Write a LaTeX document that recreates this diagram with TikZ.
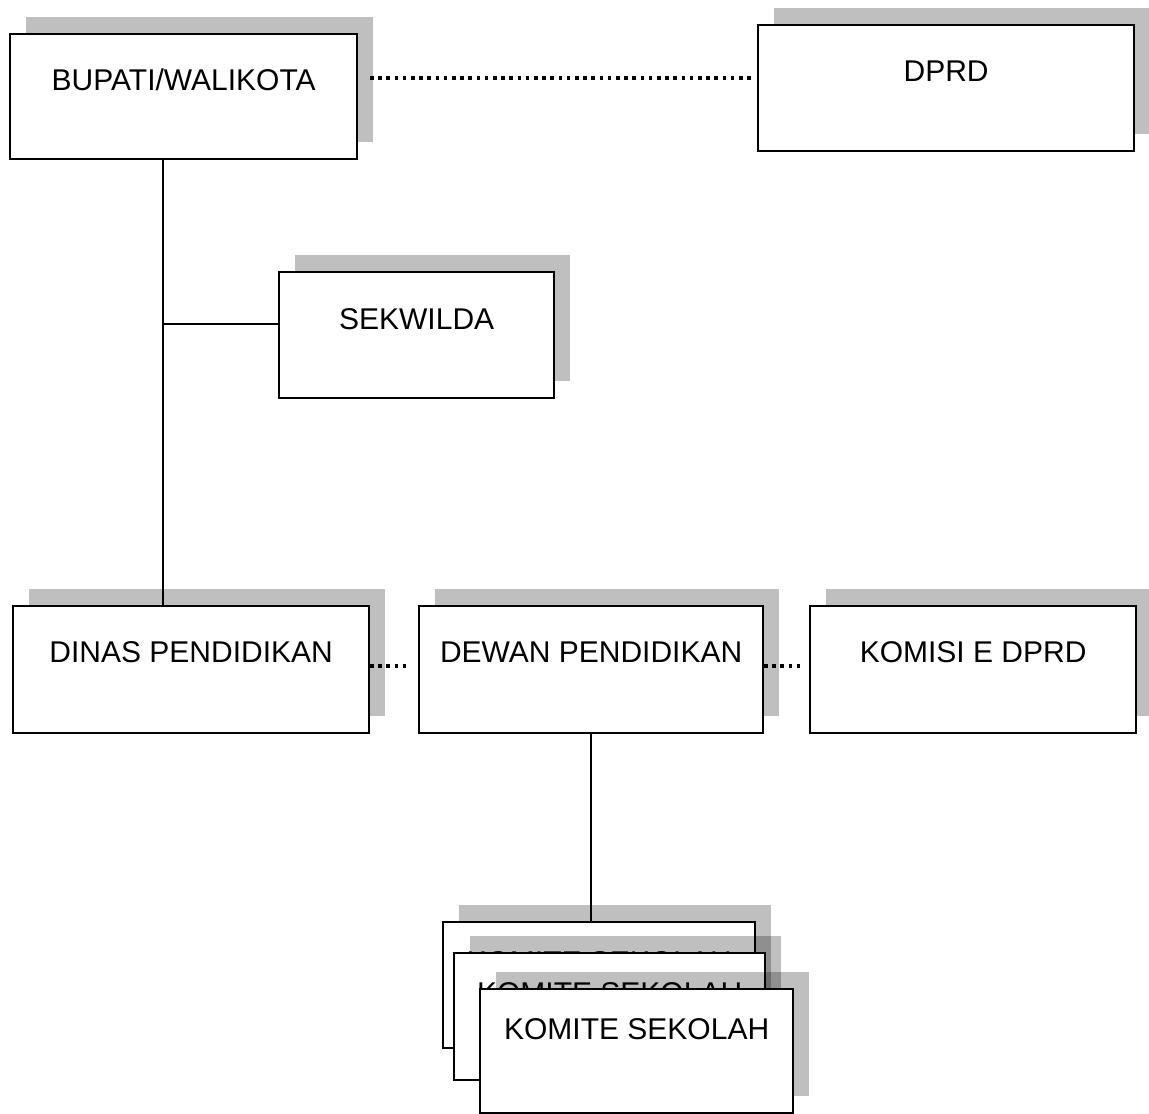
\documentclass[tikz,border=0pt]{standalone}
\usepackage{fontspec}
\setmainfont{Liberation Sans}
\usetikzlibrary{shadows}
\begin{document}
\begin{tikzpicture}[x=1pt, y=-1pt,
  orgbox/.style={draw=black, line width=2.3pt, fill=white, rectangle, inner sep=0pt,
    anchor=north west,
    general shadow={fill=black, fill opacity=0.25, shadow xshift=16pt, shadow yshift=17pt}},
  lbl/.style={font=\fontsize{30pt}{36pt}\selectfont, inner sep=0pt, anchor=base},
  link/.style={line width=2.5pt, draw=black},
  dotlink/.style={line width=3.2pt, draw=black, dash pattern=on 3.5pt off 4.7pt}]
  \useasboundingbox (0,0) rectangle (1149,1114);

  % top level
  \node[orgbox, minimum width=347pt, minimum height=125pt] (bupati) at (9,33) {};
  \node[lbl] (bupati-t) at ([yshift=-57pt]bupati.north) {BUPATI/WALIKOTA};
  \node[orgbox, minimum width=376pt, minimum height=126pt] (dprd) at (757,24) {};
  \node[lbl] (dprd-t) at ([yshift=-57pt]dprd.north) {DPRD};

  % secretariat
  \node[orgbox, minimum width=275pt, minimum height=126pt] (sekwilda) at (278,271) {};
  \node[lbl] (sekwilda-t) at ([yshift=-58pt]sekwilda.north) {SEKWILDA};

  % middle row
  \node[orgbox, minimum width=356pt, minimum height=127pt] (dinas) at (12,605) {};
  \node[lbl] (dinas-t) at ([yshift=-57pt]dinas.north) {DINAS PENDIDIKAN};
  \node[orgbox, minimum width=344pt, minimum height=127pt] (dewan) at (418,605) {};
  \node[lbl] (dewan-t) at ([yshift=-57pt]dewan.north) {DEWAN PENDIDIKAN};
  \node[orgbox, minimum width=326pt, minimum height=127pt] (komisi) at (809,605) {};
  \node[lbl] (komisi-t) at ([yshift=-57pt]komisi.north) {KOMISI E DPRD};

  % stacked school committees
  \node[orgbox, minimum width=312pt, minimum height=126pt] (k1) at (442,921) {};
  \node[lbl] (k1-t) at ([yshift=-51pt]k1.north) {KOMITE SEKOLAH};
  \node[orgbox, minimum width=311pt, minimum height=127pt] (k2) at (453,952) {};
  \node[lbl] (k2-t) at ([yshift=-51pt]k2.north) {KOMITE SEKOLAH};
  \node[orgbox, minimum width=313pt, minimum height=124pt] (k3) at (479,988) {};
  \node[lbl] (k3-t) at ([yshift=-51pt]k3.north) {KOMITE SEKOLAH};

  % solid lines of command
  \coordinate (trunk) at (163,324);
  \draw[link] (trunk |- bupati.south) -- (trunk |- dinas.north);
  \draw[link] (trunk) -- (trunk -| sekwilda.west);
  \draw[link] (dewan.south) -- (dewan.south |- k1.north);

  % dotted lines of coordination
  \coordinate (c1) at (370,78);
  \draw[dotlink] (c1) -- ([xshift=-6pt]c1 -| dprd.west);
  \coordinate (c2) at (370,666);
  \draw[dotlink] (c2) -- ([xshift=-10pt]c2 -| dewan.west);
  \coordinate (c3) at (764,666);
  \draw[dotlink] (c3) -- ([xshift=-6pt]c3 -| komisi.west);
\end{tikzpicture}
\end{document}
